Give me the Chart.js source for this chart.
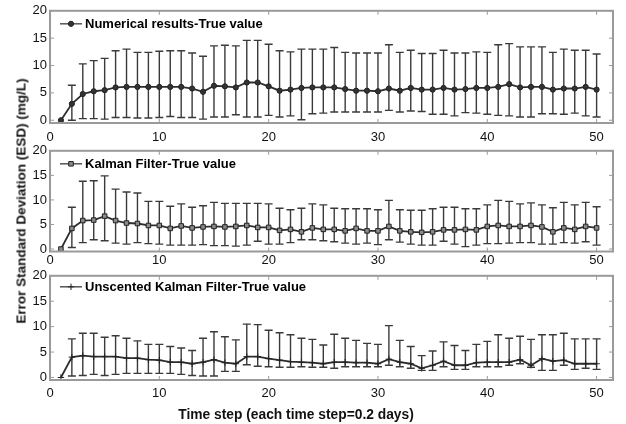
<!DOCTYPE html>
<html>
<head>
<meta charset="utf-8">
<script src="https://cdn.jsdelivr.net/npm/chart.js@4.4.0/dist/chart.umd.min.js"></script>
<style>
  body { margin: 0; background: #fff; }
  #wrap { position: relative; width: 626px; height: 424px; overflow: hidden; font-family: "Liberation Sans", Arial, sans-serif; }
  canvas { position: absolute; left: 0; }
  #ytitle { position: absolute; left: 21px; top: 201px; transform: translate(-50%, -50%) rotate(-90deg); white-space: nowrap; font-weight: bold; font-size: 13.5px; color: #111; }
  #xtitle { position: absolute; left: 296px; top: 414px; transform: translate(-50%, -50%); white-space: nowrap; font-weight: bold; font-size: 13.8px; color: #111; }
</style>
</head>
<body>
<div id="wrap">
  <canvas id="c1" width="626" height="150" style="top:0px"></canvas>
  <canvas id="c2" width="626" height="130" style="top:140px"></canvas>
  <canvas id="c3" width="626" height="159" style="top:265px"></canvas>
  <div id="ytitle">Error Standard Deviation (ESD) (mg/L)</div>
  <div id="xtitle">Time step (each time step=0.2 days)</div>
</div>
<script>
// time steps and axis ticks
const steps = [1, 2, 3, 4, 5, 6, 7, 8, 9, 10, 11, 12, 13, 14, 15, 16, 17, 18, 19, 20,
  21, 22, 23, 24, 25, 26, 27, 28, 29, 30, 31, 32, 33, 34, 35, 36, 37, 38, 39, 40,
  41, 42, 43, 44, 45, 46, 47, 48, 49, 50];
const xTicks = [0, 10, 20, 30, 40, 50];
const yTicks = [0, 5, 10, 15, 20];

// Numerical results - True value (mean, upper and lower end of error bar)
const numMean = [0, 3.0, 4.8, 5.3, 5.5, 6.0, 6.1, 6.1, 6.1, 6.1, 6.1, 6.1, 5.8, 5.2, 6.3, 6.2, 6.0, 6.9, 6.9, 6.2,
  5.4, 5.6, 5.9, 6.0, 6.0, 6.0, 5.7, 5.4, 5.4, 5.3, 5.8, 5.4, 5.9, 5.6, 5.6, 5.9, 5.6, 5.7, 5.9, 5.9,
  6.1, 6.6, 6.0, 6.1, 6.1, 5.6, 5.8, 5.8, 6.1, 5.6];
const numHi = [0, 6.4, 10.3, 10.9, 11.3, 12.7, 13.0, 12.4, 12.4, 12.6, 12.7, 12.7, 12.3, 11.7, 13.6, 13.7, 13.6, 14.6, 14.6, 13.9,
  12.7, 12.5, 13.0, 13.0, 13.0, 13.3, 12.4, 12.3, 12.3, 12.3, 13.8, 12.4, 12.8, 12.2, 12.2, 12.8, 12.3, 12.3, 12.5, 12.4,
  13.8, 14.0, 13.4, 13.4, 13.4, 12.4, 13.0, 12.8, 12.8, 12.1];
const numLo = [0, 0, 0.3, 0.3, 0.2, 0.5, 0.5, 0.4, 0.4, 0.5, 0.7, 0.5, 0.5, 0.2, 0.6, 0.6, 1.0, 0.6, 0.6, 0.9,
  0.6, 0.8, 0.1, 1.2, 1.3, 1.5, 1.5, 1.5, 1.5, 1.5, 1.8, 1.5, 1.7, 1.6, 1.1, 1.1, 0.8, 1.4, 1.3, 1.1,
  0.9, 0.8, 0.6, 0.6, 1.2, 1.2, 1.1, 1.3, 0.8, 0.6];

// Kalman Filter - True value
const kfMean = [0, 4.2, 5.8, 5.9, 6.7, 5.8, 5.3, 5.2, 4.8, 4.8, 4.2, 4.7, 4.3, 4.5, 4.6, 4.5, 4.6, 4.8, 4.4, 4.4,
  3.8, 4.0, 3.5, 4.3, 4.0, 4.0, 3.7, 4.2, 3.7, 3.7, 4.6, 3.7, 3.5, 3.4, 3.5, 3.9, 3.9, 4.0, 3.9, 4.6,
  4.8, 4.6, 4.6, 4.8, 4.5, 3.5, 4.3, 4.0, 4.6, 4.3];
const kfHi = [0, 8.5, 13.8, 13.9, 14.9, 12.2, 11.6, 11.4, 9.7, 9.7, 8.7, 9.2, 8.5, 8.8, 9.5, 9.3, 9.3, 9.3, 9.3, 9.2,
  8.3, 8.0, 8.3, 9.2, 9.0, 8.3, 8.2, 8.2, 8.2, 8.0, 9.9, 8.0, 7.9, 7.9, 8.2, 8.5, 8.5, 8.2, 8.2, 9.0,
  9.9, 9.7, 9.2, 9.4, 9.0, 8.4, 9.5, 9.0, 9.5, 8.6];
const kfLo = [0, 0.3, 1.3, 1.9, 1.7, 1.2, 1.0, 1.3, 1.1, 1.0, 0.8, 0.8, 0.8, 0.9, 0.7, 0.7, 0.6, 0.8, 1.6, 1.0,
  1.0, 1.3, 1.9, 1.9, 1.7, 1.5, 1.2, 1.0, 1.2, 0.9, 1.9, 1.4, 1.0, 0.8, 0.8, 1.6, 1.0, 0.5, 0.8, 1.1,
  1.1, 1.2, 1.3, 1.3, 1.0, 1.0, 1.3, 1.2, 1.5, 0.8];

// Unscented Kalman Filter - True value
const ukfMean = [0, 4.0, 4.3, 4.1, 4.1, 4.1, 3.8, 3.8, 3.5, 3.4, 3.0, 3.0, 2.7, 3.0, 3.5, 2.9, 2.7, 4.1, 4.1, 3.7,
  3.4, 3.1, 3.0, 2.9, 2.7, 3.0, 3.0, 2.9, 2.9, 2.7, 3.6, 3.0, 2.7, 1.8, 2.4, 3.2, 2.4, 2.4, 2.9, 3.0,
  3.0, 3.0, 3.5, 2.4, 3.7, 3.2, 3.4, 2.7, 2.7, 2.7];
const ukfHi = [0, 7.6, 8.7, 8.7, 7.9, 8.2, 7.7, 7.2, 6.5, 6.5, 6.1, 5.8, 5.3, 7.7, 9.0, 8.0, 7.4, 10.5, 10.4, 9.3,
  8.8, 8.4, 7.7, 7.5, 6.4, 8.5, 7.7, 7.3, 6.7, 6.5, 10.2, 7.3, 6.1, 4.3, 5.2, 7.0, 6.3, 5.3, 6.5, 7.1,
  8.4, 7.7, 8.1, 7.5, 8.4, 8.4, 8.7, 7.6, 7.6, 7.6];
const ukfLo = [0, 0.3, 0.4, 0.6, 0.4, 0.6, 0.8, 0.8, 0.8, 0.8, 0.8, 0.6, 0.4, 0.3, 0.3, 1.2, 1.2, 2.5, 2.2, 2.1,
  2.0, 2.0, 2.1, 2.0, 2.0, 1.8, 2.1, 2.1, 2.1, 2.1, 2.4, 2.1, 1.8, 1.4, 1.4, 2.1, 1.6, 1.6, 2.1, 2.1,
  2.1, 2.4, 2.7, 2.0, 1.4, 1.4, 2.4, 1.6, 1.8, 1.6];

Chart.defaults.font.family = '"Liberation Sans", Arial, sans-serif';

// vertical error bars with caps, drawn under the line
const errorBars = {
  id: 'errorBars',
  beforeDatasetsDraw(chart) {
    const { ctx, scales: { x, y } } = chart;
    const ds = chart.data.datasets[0];
    const cap = 4;
    ctx.save();
    ctx.strokeStyle = '#3a3a3a';
    ctx.lineWidth = 1.4;
    ds.data.forEach((p, i) => {
      const hi = ds.errHi[i], lo = ds.errLo[i];
      if (hi === lo) return;
      const px = x.getPixelForValue(p.x);
      const yh = y.getPixelForValue(hi), yl = y.getPixelForValue(lo);
      ctx.beginPath();
      ctx.moveTo(px, yh); ctx.lineTo(px, yl);
      ctx.moveTo(px - cap, yh); ctx.lineTo(px + cap, yh);
      ctx.moveTo(px - cap, yl); ctx.lineTo(px + cap, yl);
      ctx.stroke();
    });
    ctx.restore();
  }
};

// matlab-like box with inward ticks
const frame = {
  id: 'frame',
  afterDatasetsDraw(chart) {
    const { ctx, chartArea: a, scales: { x, y } } = chart;
    ctx.save();
    ctx.strokeStyle = '#9a9a9a';
    ctx.lineWidth = 2;
    ctx.strokeRect(a.left, a.top, a.right - a.left, a.bottom - a.top);
    ctx.lineWidth = 1;
    ctx.beginPath();
    x.ticks.forEach(t => {
      const px = x.getPixelForValue(t.value);
      ctx.moveTo(px, a.bottom); ctx.lineTo(px, a.bottom - 4);
      ctx.moveTo(px, a.top); ctx.lineTo(px, a.top + 4);
    });
    y.ticks.forEach(t => {
      const py = y.getPixelForValue(t.value);
      ctx.moveTo(a.left, py); ctx.lineTo(a.left + 4, py);
      ctx.moveTo(a.right, py); ctx.lineTo(a.right - 4, py);
    });
    ctx.stroke();
    ctx.restore();
  }
};

// legend entry inside the top-left of each panel
const panelLegend = {
  id: 'panelLegend',
  afterDraw(chart, args, opts) {
    const { ctx, chartArea: a } = chart;
    const ds = chart.data.datasets[0];
    const y = a.top + opts.dy;
    const x0 = a.left + 10, x1 = a.left + 32;
    ctx.save();
    ctx.strokeStyle = '#555';
    ctx.lineWidth = 1.5;
    ctx.beginPath(); ctx.moveTo(x0, y); ctx.lineTo(x1, y); ctx.stroke();
    ctx.fillStyle = ds.pointBackgroundColor;
    ctx.strokeStyle = ds.pointBorderColor;
    ctx.lineWidth = 1;
    Chart.helpers.drawPoint(ctx, { pointStyle: ds.pointStyle, radius: ds.pointRadius, rotation: 0, borderWidth: 1 }, (x0 + x1) / 2, y);
    ctx.fillStyle = '#000';
    ctx.font = 'bold 13px "Liberation Sans", Arial, sans-serif';
    ctx.textBaseline = 'middle';
    ctx.fillText(ds.label, x1 + 3, y + 0.5);
    ctx.restore();
  }
};

function makePanel(id, label, mean, hi, lo, marker, lay) {
  return new Chart(document.getElementById(id), {
    type: 'line',
    data: {
      datasets: [{
        label: label,
        data: steps.map((s, i) => ({ x: s, y: mean[i] })),
        errHi: hi,
        errLo: lo,
        borderColor: '#2e2e2e',
        borderWidth: 1.8,
        pointStyle: marker.shape,
        pointRadius: marker.r,
        pointBackgroundColor: marker.fill,
        pointBorderColor: '#222',
        pointBorderWidth: 1,
        tension: 0
      }]
    },
    options: {
      responsive: false,
      animation: false,
      events: [],
      layout: { padding: { top: lay.top, right: 13, left: 0, bottom: 0 } },
      plugins: {
        legend: { display: false },
        tooltip: { enabled: false },
        panelLegend: { dy: lay.legend }
      },
      scales: {
        x: {
          type: 'linear', min: 0, max: 51.5,
          afterBuildTicks: s => { s.ticks = xTicks.map(v => ({ value: v })); },
          afterFit: s => { s.height = lay.xh; },
          grid: { display: false, drawTicks: false },
          border: { display: false },
          ticks: { padding: lay.xpad, maxRotation: 0, color: '#111', font: { size: 13 } }
        },
        y: {
          min: -0.5, max: 20,
          afterBuildTicks: s => { s.ticks = yTicks.map(v => ({ value: v })); },
          afterFit: s => { s.width = 50; },
          grid: { display: false, drawTicks: false },
          border: { display: false },
          ticks: { padding: 3, color: '#111', font: { size: 13 } }
        }
      }
    },
    plugins: [errorBars, frame, panelLegend]
  });
}

makePanel('c1', 'Numerical results-True value', numMean, numHi, numLo,
  { shape: 'circle', r: 2.6, fill: '#333' }, { top: 8, xh: 27, xpad: 7, legend: 13 });
makePanel('c2', 'Kalman Filter-True value', kfMean, kfHi, kfLo,
  { shape: 'rect', r: 3.2, fill: '#8a8a8a' }, { top: 6, xh: 18.5, xpad: 1.5, legend: 13 });
makePanel('c3', 'Unscented Kalman Filter-True value', ukfMean, ukfHi, ukfLo,
  { shape: 'cross', r: 3.2, fill: '#222' }, { top: 7, xh: 44, xpad: 6, legend: 11 });
</script>
</body>
</html>
